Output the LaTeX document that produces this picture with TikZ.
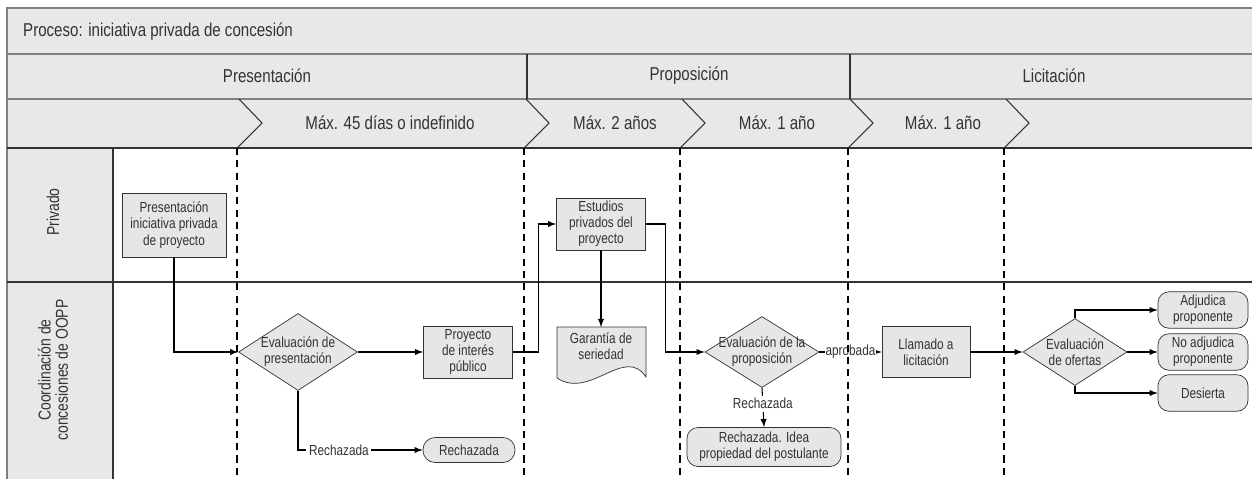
\documentclass[tikz,border=0pt]{standalone}
\usepackage{fontspec}
\setmainfont[FakeStretch=0.81]{Liberation Sans}
\usetikzlibrary{shapes.geometric}
\definecolor{headgray}{HTML}{E8E8E8}
\definecolor{boxgray}{HTML}{E6E6E6}
\definecolor{rulegray}{HTML}{808080}
\definecolor{inkgray}{HTML}{333333}
\newcommand{\headfont}{\fontsize{10.6}{12}\selectfont}
\newcommand{\lanefont}{\fontsize{9.8}{9.9}\selectfont}
\newcommand{\boxfont}{\fontsize{8.3}{9.2}\selectfont}
\newcommand{\chevron}[1]{
  \draw[inkgray, line width=0.6pt] (#1+2,99) -- (#1+25,123) -- (#1,148);% Draws one stage arrow
}
\tikzset{
  hd/.style={font=\headfont, text=inkgray},
  proc/.style={draw=inkgray, fill=boxgray, text=inkgray, font=\boxfont, align=center,
    minimum width=1.78cm, minimum height=1.04cm, inner sep=1pt},
  dec/.style={diamond, draw=inkgray, fill=boxgray, inner sep=0pt},
  dtext/.style={font=\boxfont, text=inkgray, align=center, inner sep=0pt},
  term/.style={draw=inkgray, fill=boxgray, text=inkgray, font=\boxfont, align=center,
    rounded corners=0.22cm, minimum width=1.8cm, minimum height=0.73cm, inner sep=1pt},
  arr/.style={-latex, line width=0.6pt},
  lbl/.style={font=\boxfont, text=inkgray, fill=white, inner sep=1.5pt}
}

\begin{document}
\begin{tikzpicture}[x=0.02cm, y=-0.02cm]
  \useasboundingbox (0,0) rectangle (1252,478);
  \clip (0,0) rectangle (1252,478);

  % Header rows and lane column
  \fill[headgray] (7,8) rectangle (1260,148);
  \fill[headgray] (7,148) rectangle (113,480);
  \draw[rulegray, line width=1.2pt] (7,480) -- (7,8) -- (1260,8);
  \draw[rulegray, line width=1pt] (7,54) -- (1260,54) (7,99) -- (1260,99);
  \draw[inkgray, line width=0.6pt] (7,148) -- (1260,148) (7,282) -- (1260,282)
    (113,148) -- (113,480);
  \draw[inkgray, line width=0.6pt] (527,54) -- (527,99) (850,54) -- (850,99);
  \foreach \x in {237,524,680,848,1004}{
    \chevron{\x}
  }

  \node[hd, anchor=west] (titulo) at (17,32) {Proceso: iniciativa privada de concesión};
  \node[hd] (fpres) at (267,76) {Presentación};
  \node[hd] (fprop) at (689,76) {Proposición};
  \node[hd] (flic) at (1054,76) {Licitación};
  \node[hd] (plazo1) at (390,123) {Máx. 45 días o indefinido};
  \node[hd] (plazo2) at (615,123) {Máx. 2 años};
  \node[hd] (plazo3) at (777,123) {Máx. 1 año};
  \node[hd] (plazo4) at (943,123) {Máx. 1 año};

  \node[hd, font=\lanefont, rotate=90] (privado) at (53,212) {Privado};
  \node[hd, font=\lanefont, rotate=90, align=center] (coord) at (53,370)
    {Coordinación de\\concesiones de OOPP};

  % Presentacion
  \node[proc, minimum width=2.08cm, minimum height=1.28cm] (pres) at (174,225)
    {Presentación\\iniciativa privada\\de proyecto};
  \node[dec, minimum width=2.38cm, minimum height=1.54cm,
    label={[dtext]center:{Evaluación de\\presentación}}] (evalp) at (298,352) {};
  \node[proc] (proy) at (468,352) {Proyecto\\de interés\\público};
  \node[term, minimum width=1.84cm, minimum height=0.5cm, rounded corners=0.24cm] (rech) at (469,450)
    {Rechazada};

  % Proposicion
  \node[proc] (estud) at (601,224) {Estudios\\privados del\\proyecto};
  \coordinate (garantop) at (601,327);
  \draw[draw=inkgray, fill=boxgray] (557,327) -- (646,327) -- (646,377)
    .. controls (625,345) and (590,400) .. (557,378) -- cycle;
  \node[font=\boxfont, text=inkgray, align=center, inner sep=1pt] (garant) at (601,346)
    {Garantía de\\seriedad};
  \node[dec, minimum width=2.28cm, minimum height=1.42cm,
    label={[dtext]center:{Evaluación de la\\proposición}}] (evalprop) at (762,352) {};
  \node[term, minimum width=3.08cm, minimum height=0.78cm] (rechidea) at (764,447)
    {Rechazada. Idea\\propiedad del postulante};

  % Licitacion
  \node[proc, minimum width=1.76cm, minimum height=1.02cm] (llamado) at (926,352) {Llamado a\\licitación};
  \node[dec, minimum width=2.08cm, minimum height=1.34cm,
    label={[dtext]center:{Evaluación\\de ofertas}}] (evalof) at (1075,352) {};
  \node[term] (adjud) at (1203,310) {Adjudica\\proponente};
  \node[term] (noadjud) at (1203,352) {No adjudica\\proponente};
  \node[term] (desierta) at (1203,393) {Desierta};

  % Connectors
  \draw[arr] (pres.south) |- (evalp.west);
  \draw[arr] (evalp.east) -- (proy.west);
  \draw[arr] (evalp.south) |- node[lbl, pos=0.664] {Rechazada} (rech.west);
  \draw[arr] (proy.east) -- ++(26,0) |- (estud.west);
  \draw[arr] (estud.south) -- (garantop);
  \draw[arr] (estud.east) -- ++(20,0) |- (evalprop.west);
  \draw[arr] (evalprop.east) -- node[lbl, inner sep=0.5pt] {aprobada} (llamado.west);
  \draw[arr] (evalprop.south) -- node[lbl, pos=0.4] {Rechazada} (rechidea.north);
  \draw[arr] (llamado.east) -- (evalof.west);
  \draw[arr] (evalof.north) |- (adjud.west);
  \draw[arr] (evalof.east) -- (noadjud.west);
  \draw[arr] (evalof.south) |- (desierta.west);

  \foreach \x in {237,524,680,848,1004}{
    \draw[line width=0.8pt, dash pattern=on 4pt off 3pt] (\x,148) -- (\x,480);% Stage limits
  }
\end{tikzpicture}
\end{document}
